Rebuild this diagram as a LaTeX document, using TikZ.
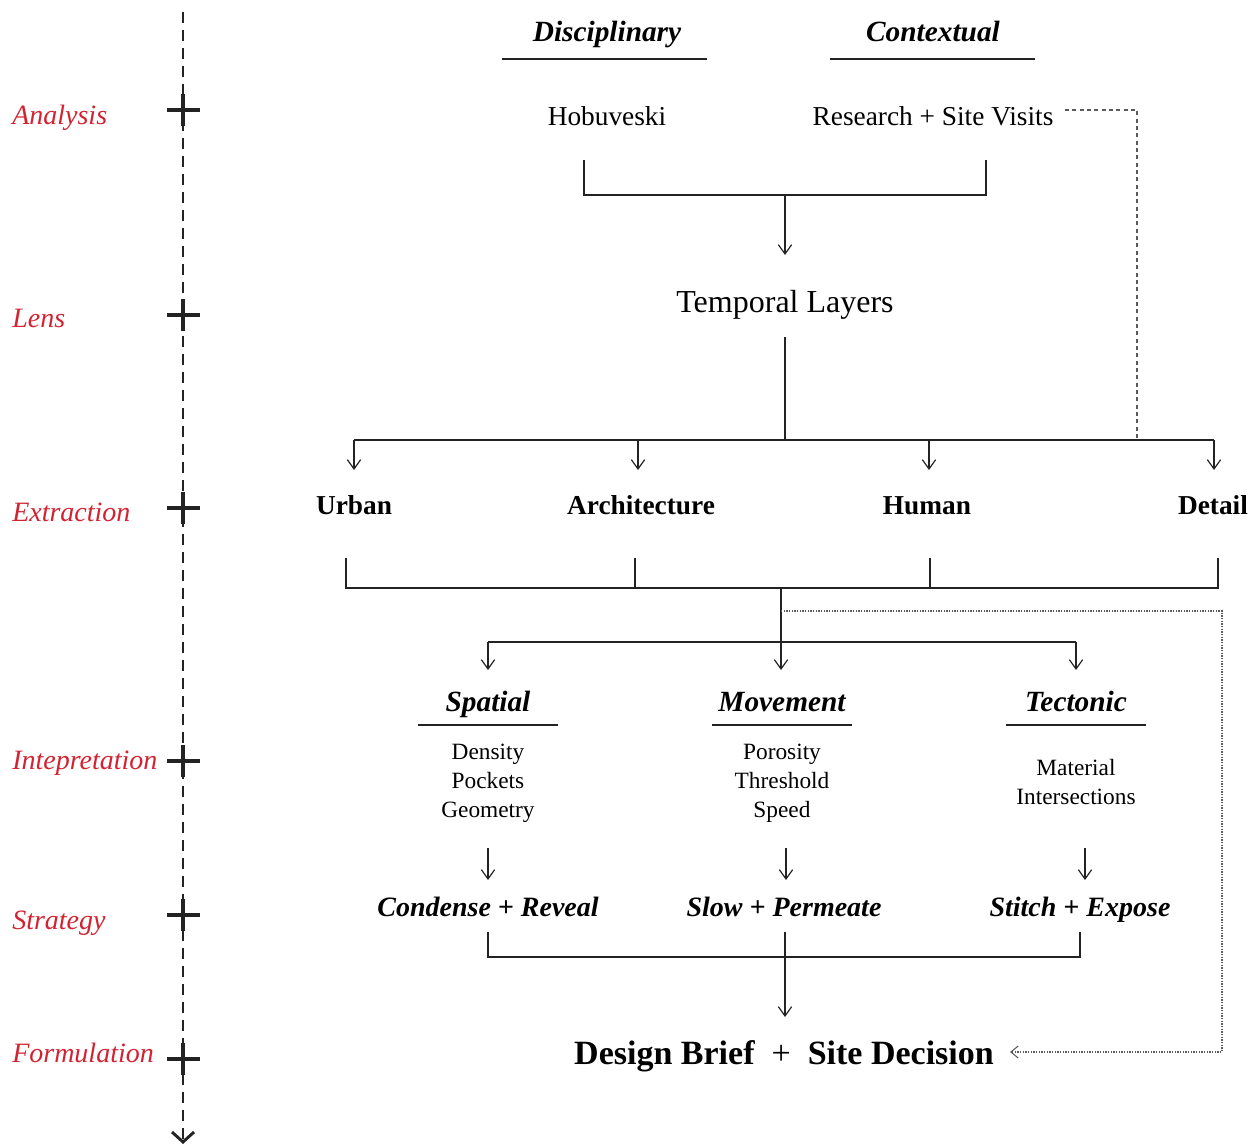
\documentclass[tikz,border=0pt]{standalone}
\usepackage{fontspec}
\setmainfont{Liberation Serif}
\usetikzlibrary{arrows.meta}
\definecolor{lblred}{RGB}{210,35,50}
\definecolor{ink}{RGB}{35,35,35}
\definecolor{dotgray}{RGB}{90,90,90}
\begin{document}
\begin{tikzpicture}[x=0.75pt,y=-0.75pt,
  stage/.style={font=\fontsize{21}{25}\selectfont\itshape, text=lblred, anchor=base west, inner sep=0},
  head/.style={font=\fontsize{22}{26}\selectfont\bfseries\itshape, anchor=base, inner sep=0},
  plain/.style={font=\fontsize{20.5}{25}\selectfont, anchor=base, inner sep=0},
  big/.style={font=\fontsize{24}{28}\selectfont, anchor=base, inner sep=0},
  cat/.style={font=\fontsize{20.5}{25}\selectfont\bfseries, anchor=base, inner sep=0},
  lst/.style={font=\fontsize{17.5}{21.75}\selectfont, align=center, inner sep=0},
  strat/.style={font=\fontsize{21}{25}\selectfont\bfseries\itshape, anchor=base, inner sep=0},
  final/.style={font=\fontsize{25.5}{30}\selectfont\bfseries, anchor=base, inner sep=0},
  conn/.style={draw=ink, line width=0.9pt},
  arr/.style={conn, -{Straight Barb[length=7pt,width=10pt]}},
  underl/.style={draw=ink, line width=0.9pt},
  axis/.style={draw=ink, line width=0.9pt, dash pattern=on 8pt off 5.5pt},
  plusmark/.style={draw=ink, line width=3pt},
  dashlink/.style={draw=dotgray, line width=0.8pt, dash pattern=on 3pt off 2.5pt},
  dotlink/.style={draw=dotgray, line width=0.8pt, dash pattern=on 1pt off 1pt, -{Straight Barb[length=5.5pt,width=9pt]}}
]
\useasboundingbox (0,0) rectangle (1260,1148);

% ---- left axis ----
\coordinate (axtop) at (183,12);
\coordinate (axbot) at (183,1141);
\draw[axis] (axtop) -- (axbot);
\draw[draw=ink, line width=2.2pt] (172,1132) -- (183,1142) -- (194,1132);
\foreach \yy in {110,315,508,761,915,1059}{
  \draw[plusmark] (167,\yy) -- (200,\yy);
  \draw[plusmark] (183,\yy-16) -- (183,\yy+16);
}
\node[stage] (sAna) at (12,125) {Analysis};
\node[stage] (sLen) at (12,328) {Lens};
\node[stage] (sExt) at (12,521) {Extraction};
\node[stage] (sInt) at (12,769) {Intepretation};
\node[stage] (sStr) at (12,929) {Strategy};
\node[stage] (sFor) at (12,1062) {Formulation};

% ---- analysis ----
\node[head] (disc) at (607,42) {Disciplinary};
\node[head] (cont) at (933,42) {Contextual};
\draw[underl] (502,59) -- (707,59);
\draw[underl] (830,59) -- (1035,59);
\node[plain] (hob) at (607,126) {Hobuveski};
\node[plain] (rsv) at (933,126) {Research + Site Visits};

\coordinate (b1l) at (584,160);
\coordinate (b1r) at (986,160);
\coordinate (b1m) at (785,195);
\draw[conn] (b1l) |- (b1m) -| (b1r);
\node[big] (temp) at (785,312) {Temporal Layers};
\draw[arr] (b1m) -- (785,255);

% ---- lens -> extraction ----
\coordinate (t1) at (785,337);
\coordinate (h1) at (785,440);
\draw[conn] (t1) -- (h1);
\draw[conn] (354,440) -- (1214,440);
\node[cat] (urb) at (354,514) {Urban};
\node[cat] (arc) at (641,514) {Architecture};
\node[cat] (hum) at (927,514) {Human};
\node[cat] (det) at (1213,514) {Detail};
\foreach \xx in {354,638,929,1214}{
  \draw[arr] (\xx,440) -- (\xx,470);
}
% dashed from research
\coordinate (r1) at (1065,110);
\coordinate (r2) at (1137,440);
\draw[dashlink] (r1) -| (r2);

% ---- extraction bracket ----
\draw[conn] (346,558) -- (346,588) -- (1218,588) -- (1218,558);
\draw[conn] (635,558) -- (635,588);
\draw[conn] (930,558) -- (930,588);
\coordinate (e1) at (781,588);
\draw[arr] (e1) -- (781,670);
\draw[conn] (488,642) -- (1076,642);
\draw[arr] (488,642) -- (488,670);
\draw[arr] (1076,642) -- (1076,670);

% ---- interpretation ----
\node[head] (spa) at (488,711) {Spatial};
\node[head] (mov) at (782,711) {Movement};
\node[head] (tec) at (1076,711) {Tectonic};
\draw[underl] (418,725) -- (558,725);
\draw[underl] (712,725) -- (852,725);
\draw[underl] (1006,725) -- (1146,725);
\node[lst] (spal) at (488,783) {Density\\Pockets\\Geometry};
\node[lst] (movl) at (782,783) {Porosity\\Threshold\\Speed};
\node[lst] (tecl) at (1076,782) {Material\\Intersections};

% ---- strategy ----
\draw[arr] (488,848) -- (488,880);
\draw[arr] (786,848) -- (786,880);
\draw[arr] (1085,848) -- (1085,880);
\node[strat] (con) at (488,916) {Condense + Reveal};
\node[strat] (slo) at (784,916) {Slow + Permeate};
\node[strat] (sti) at (1080,916) {Stitch + Expose};
\draw[conn] (488,932) -- (488,957) -- (1080,957) -- (1080,932);
\draw[arr] (785,932) -- (785,1017);

% ---- formulation ----
\node[final] (fin) at (784,1064) {Design Brief \ {\mdseries+}\ \ Site Decision};
\coordinate (dl1) at (781,611);
\coordinate (dl2) at (1222,1052);
\draw[dotlink] (dl1) -| (dl2) -- (1010,1052);
\end{tikzpicture}
\end{document}
